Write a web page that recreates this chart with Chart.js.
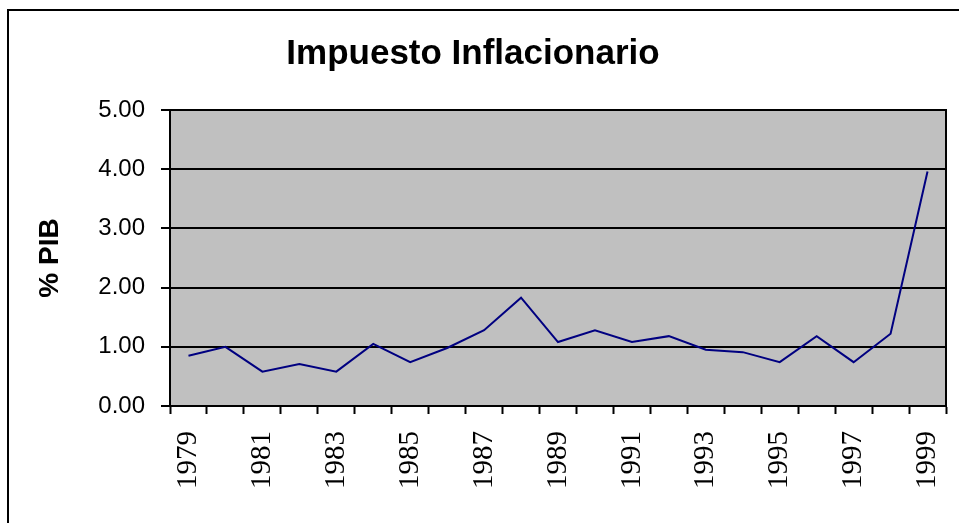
<!DOCTYPE html>
<html>
<head>
<meta charset="utf-8">
<title>Impuesto Inflacionario</title>
<script src="https://cdn.jsdelivr.net/npm/chart.js@4.4.1/dist/chart.umd.min.js"></script>
<style>
  html, body { margin: 0; padding: 0; background: #fff; }
  canvas { display: block; }
</style>
</head>
<body>
<canvas id="grafico" width="959" height="523"></canvas>
<script>
// datos
const years = ['1979', '1980', '1981', '1982', '1983', '1984', '1985', '1986', '1987', '1988',
               '1989', '1990', '1991', '1992', '1993', '1994', '1995', '1996', '1997', '1998', '1999'];
const impuesto = [0.85, 1.00, 0.58, 0.71, 0.58, 1.05, 0.74, 0.98, 1.28, 1.83,
                  1.08, 1.28, 1.08, 1.18, 0.95, 0.91, 0.74, 1.18, 0.74, 1.22, 3.96];
const yMin = 0;
const yMax = 5;
const yStep = 1;

const sansFont = 'Liberation Sans, Arial, sans-serif';
const serifFont = 'Liberation Serif, Times New Roman, serif';

// fondo gris del area de trazado + marcos
const marcoPlugin = {
    id: 'marco',
    beforeDraw(chart) {
        const { ctx, chartArea: a } = chart;
        ctx.save();
        ctx.fillStyle = '#C0C0C0';
        ctx.fillRect(a.left, a.top, a.right - a.left, a.bottom - a.top);
        // borde exterior (solo arriba e izquierda visibles)
        ctx.strokeStyle = '#000';
        ctx.lineWidth = 2;
        ctx.beginPath();
        ctx.moveTo(8, chart.height);
        ctx.lineTo(8, 10);
        ctx.lineTo(chart.width, 10);
        ctx.stroke();
        ctx.restore();
    },
    afterDraw(chart) {
        const { ctx, chartArea: a } = chart;
        ctx.save();
        ctx.strokeStyle = '#000';
        ctx.lineWidth = 2;
        ctx.strokeRect(a.left, a.top, a.right - a.left, a.bottom - a.top);
        ctx.restore();
    }
};

new Chart(document.getElementById('grafico'), {
    type: 'line',
    data: {
        labels: years,
        datasets: [{
            label: 'Impuesto Inflacionario',
            data: impuesto,
            borderColor: '#000080',
            borderWidth: 2,
            pointRadius: 0,
            tension: 0,
            fill: false
        }]
    },
    options: {
        responsive: false,
        animation: false,
        layout: { padding: { left: 0, right: 13, top: 0, bottom: 0 } },
        plugins: {
            legend: { display: false },
            tooltip: { enabled: false },
            title: {
                display: true,
                text: 'Impuesto Inflacionario',
                color: '#000',
                font: { family: sansFont, size: 35, weight: 'bold', lineHeight: 1.2 },
                padding: { top: 33, bottom: 35 }
            }
        },
        scales: {
            x: {
                type: 'category',
                offset: true,
                grid: {
                    offset: true,
                    drawOnChartArea: false,
                    drawTicks: true,
                    tickLength: 8,
                    tickColor: '#000',
                    tickWidth: 2
                },
                border: { color: '#000', width: 2 },
                ticks: {
                    autoSkip: false,
                    minRotation: 90,
                    maxRotation: 90,
                    padding: 17,
                    color: '#000',
                    font: { family: serifFont, size: 29 },
                    callback: function (val, i) {
                        return i % 2 === 0 ? this.getLabelForValue(val) : '';
                    }
                },
                afterFit: (scale) => {
                    scale.height = 117;
                    scale.paddingLeft = 0;
                    scale.paddingRight = 0;
                }
            },
            y: {
                min: yMin,
                max: yMax,
                grid: {
                    color: '#000',
                    lineWidth: 2,
                    tickLength: 9,
                    tickColor: '#000'
                },
                border: { color: '#000', width: 2 },
                ticks: {
                    stepSize: yStep,
                    padding: 16,
                    color: '#000',
                    font: { family: sansFont, size: 24 },
                    callback: (v) => Number(v).toFixed(2)
                },
                title: {
                    display: true,
                    text: '% PIB',
                    color: '#000',
                    font: { family: sansFont, size: 28, weight: 'bold', lineHeight: 1.2 },
                    padding: { top: 33, bottom: 0 }
                },
                afterFit: (scale) => { scale.width = 170; }
            }
        }
    },
    plugins: [marcoPlugin]
});
</script>
</body>
</html>
